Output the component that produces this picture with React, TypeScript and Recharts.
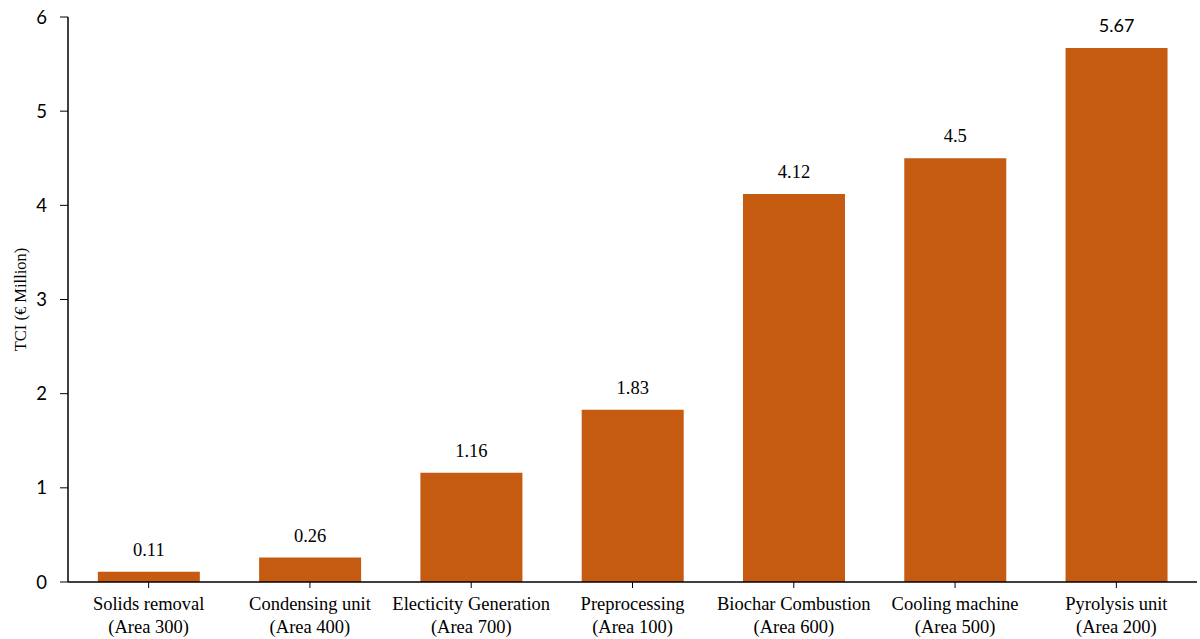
import React from 'react';
import { BarChart, Bar, XAxis, YAxis, LabelList } from 'recharts';

const categories = [
  'Solids removal|(Area 300)',
  'Condensing unit|(Area 400)',
  'Electicity Generation|(Area 700)',
  'Preprocessing|(Area 100)',
  'Biochar Combustion|(Area 600)',
  'Cooling machine|(Area 500)',
  'Pyrolysis unit|(Area 200)',
];
const tciValues = [0.11, 0.26, 1.16, 1.83, 4.12, 4.5, 5.67];
const yTicks = [0, 1, 2, 3, 4, 5, 6];

const data = categories.map((c, i) => ({ name: c, value: tciValues[i] }));

const SERIF = '"Liberation Serif", "Times New Roman", serif';
const SANS = 'Lato, "Liberation Sans", sans-serif';

const XTick = (props: any) => {
  const { x, y, payload } = props;
  const lines = String(payload.value).split('|');
  return (
    <g transform={`translate(${x},${y})`}>
      {lines.map((l, i) => (
        <text key={i} x={0} y={0} dy={20 + i * 23} textAnchor="middle" fontFamily={SERIF} fontSize={18.5} fill="#000">
          {l}
        </text>
      ))}
    </g>
  );
};

const ValueLabel = (props: any) => {
  const { x, y, width, value, index } = props;
  const sans = index === tciValues.length - 1;
  return (
    <text x={x + width / 2} y={y - 16} textAnchor="middle" fontFamily={sans ? SANS : SERIF} fontSize={sans ? 18 : 18.5} fill="#000">
      {value}
    </text>
  );
};

export default function App() {
  return (
    <div style={{ position: 'absolute', left: 0, top: 0, width: 1200, height: 639, background: '#fff' }}>
      <BarChart width={1200} height={639} data={data} margin={{ top: 17, right: 3, bottom: 0, left: 8 }} barCategoryGap="18.5%">
        <XAxis
          dataKey="name"
          height={57}
          tick={<XTick />}
          tickLine={{ stroke: '#000' }}
          axisLine={{ stroke: '#000', strokeWidth: 1.5 }}
          tickSize={6}
          interval={0}
          scale="band"
        />
        <YAxis
          width={60}
          domain={[0, 6]}
          ticks={yTicks}
          axisLine={{ stroke: '#000', strokeWidth: 1.5 }}
          tickLine={{ stroke: '#000' }}
          tickSize={8}
          tickMargin={13}
          tick={{ fontFamily: SANS, fontSize: 18.5, fill: '#000' }}
          label={{ value: 'TCI (€ Million)', angle: -90, position: 'insideLeft', offset: 0, dx: 12, dy: 0, style: { fontFamily: SERIF, fontSize: 16.5, fill: '#000', textAnchor: 'middle' } }}
        />
        <Bar dataKey="value" fill="#C55A11" isAnimationActive={false}>
          <LabelList dataKey="value" content={<ValueLabel />} />
        </Bar>
      </BarChart>
    </div>
  );
}
